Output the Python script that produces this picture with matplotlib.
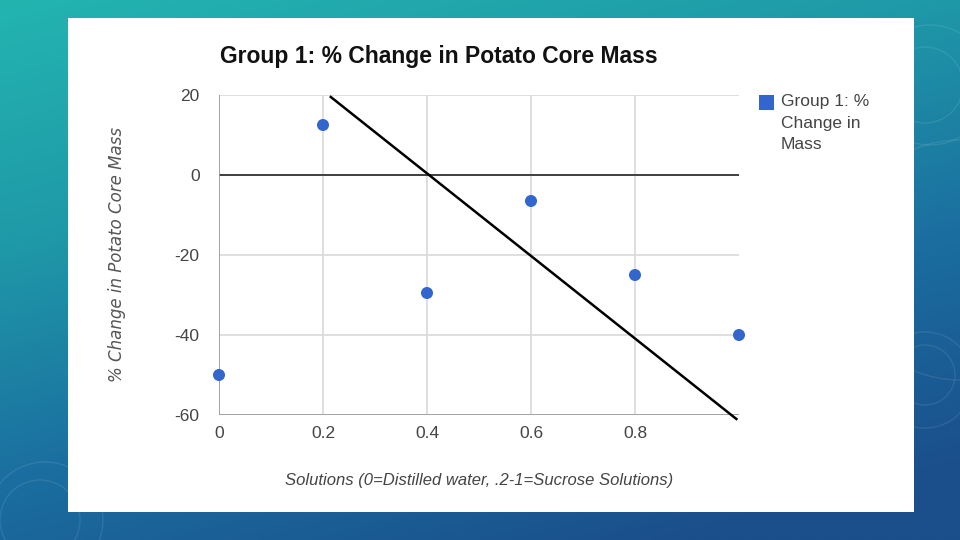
import numpy as np
import matplotlib
matplotlib.use("Agg")
import matplotlib.pyplot as plt
from matplotlib.patches import Rectangle, Circle
from matplotlib.colors import LinearSegmentedColormap

# ---- data ----
solutions = [0.0, 0.2, 0.4, 0.6, 0.8, 1.0]
pct_change = [-50.0, 12.5, -29.5, -6.5, -25.0, -40.0]
trend_x = [0.215, 0.995]
trend_y = [19.5, -61.0]
x_ticks = [0, 0.2, 0.4, 0.6, 0.8]
x_tick_labels = ["0", "0.2", "0.4", "0.6", "0.8"]
y_ticks = [-60, -40, -20, 0, 20]
y_tick_labels = ["-60", "-40", "-20", "0", "20"]
title = "Group 1: % Change in Potato Core Mass"
x_label = "Solutions (0=Distilled water, .2-1=Sucrose Solutions)"
y_label = "% Change in Potato Core Mass"
legend_label = "Group 1: %\nChange in\nMass"

plt.rcParams['font.family'] = ['Liberation Sans', 'DejaVu Sans']

W, H = 960, 540
fig = plt.figure(figsize=(9.6, 5.4), dpi=100)

# background gradient
bg = fig.add_axes([0, 0, 1, 1])
bg.set_axis_off()
yy, xx = np.mgrid[0:1:200j, 0:1:200j]
t = np.clip(0.75 * yy + 0.35 * xx, 0, 1)
cmap = LinearSegmentedColormap.from_list("bg", ["#23b4b0", "#1f9aa8", "#1b6fa0", "#1a4f8c"])
bg.imshow(t, cmap=cmap, extent=[0, W, H, 0], aspect='auto', interpolation='bilinear')
bg.set_xlim(0, W)
bg.set_ylim(H, 0)
# faint decorative circles
for (cx, cy, r) in [(925, 85, 38), (930, 85, 60), (925, 375, 30), (925, 380, 48),
                    (40, 520, 40), (45, 520, 58), (960, 260, 120)]:
    bg.add_patch(Circle((cx, cy), r, fill=False, ec=(1, 1, 1, 0.09), lw=1.0))
# white panel
bg.add_patch(Rectangle((68, 18), 846, 494, fc="white", ec="none", zorder=5))

# main axes
x0, x1 = 219, 739
ytop, ybot = 95, 415
ax = fig.add_axes([x0 / W, 1 - ybot / H, (x1 - x0) / W, (ybot - ytop) / H])
ax.set_facecolor("none")
ax.set_xlim(0, 1.0)
ax.set_ylim(-60, 20)
ax.set_xticks(x_ticks)
ax.set_xticklabels(x_tick_labels)
ax.set_yticks(y_ticks)
ax.set_yticklabels(y_tick_labels)
ax.tick_params(length=0, labelsize=12.5, labelcolor="#444444", pad=8)
ax.tick_params(axis='y', pad=14)
for s in ax.spines.values():
    s.set_visible(False)
ax.grid(True, color="#d9d9d9", lw=1.2, zorder=0)
ax.axhline(0, color="#333333", lw=1.3, zorder=2)
ax.axvline(0, color="#999999", lw=1.2, zorder=2)
ax.axhline(-60, color="#999999", lw=1.2, zorder=2)

ax.plot(trend_x, trend_y, color="black", lw=1.8, zorder=3, clip_on=False)
ax.scatter(solutions, pct_change, s=75, color="#3366cc", zorder=4, clip_on=False,
           edgecolors="none")

# labels
fig.text(220 / W, 1 - 57 / H, title, fontsize=16.5, fontweight='bold', color="#111111",
         ha='left', va='center')
fig.text(479 / W, 1 - 481 / H, x_label, fontsize=12, style='italic', color="#444444",
         ha='center', va='center')
fig.text(117 / W, 1 - 254 / H, y_label, fontsize=12, style='italic', color="#555555",
         ha='center', va='center', rotation=90, family='DejaVu Sans')

# legend
fig.patches.append(Rectangle((759 / W, 1 - 110 / H), 15 / W, 15 / H, fc="#3366cc", ec="none",
                             transform=fig.transFigure, figure=fig))
fig.text(781 / W, 1 - 94 / H, legend_label, fontsize=12.5, color="#444444",
         ha='left', va='top', linespacing=1.55)

fig.savefig("out.png", dpi=100)
